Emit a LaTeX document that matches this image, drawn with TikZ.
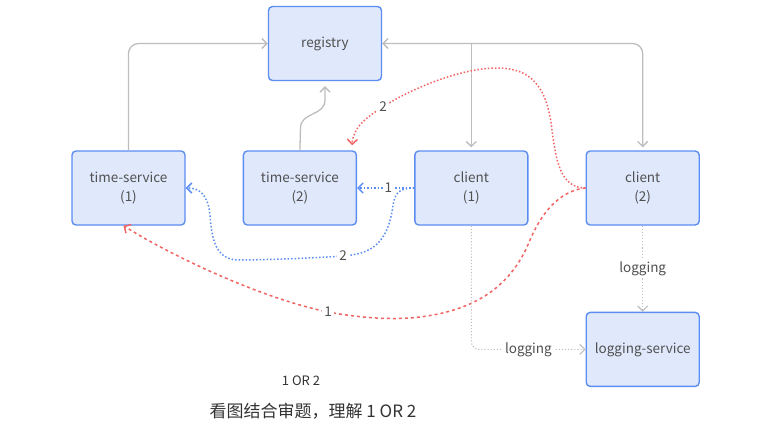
\documentclass[tikz,border=0pt]{standalone}
\usepackage{fontspec}
\setmainfont{Noto Sans CJK SC}
\usepackage{xcolor}
\usetikzlibrary{arrows.meta, positioning}

\definecolor{boxline}{HTML}{5B8DF2}
\definecolor{boxfill}{HTML}{E0E9FC}
\definecolor{txt}{HTML}{505050}
\definecolor{lgray}{HTML}{BDBDBD}
\definecolor{redline}{HTML}{F26464}
\definecolor{blueline}{HTML}{5B8DF2}

\begin{document}
\begin{tikzpicture}[
    x=1pt, y=-1pt,
    node distance=57pt,
    font=\fontsize{13.5}{19.5}\selectfont,
    text=txt,
    block/.style={
        draw=boxline,
        fill=boxfill,
        line width=1.4pt,
        rectangle,
        rounded corners=4pt,
        align=center,
        minimum width=113pt,
        minimum height=74pt
    },
    tip/.style={-{Straight Barb[length=5pt, width=10pt]}},
    grayarrow/.style={tip, draw=lgray, line width=1.3pt},
    logarrow/.style={tip, draw=lgray, line width=1.1pt, dotted},
    reddot/.style={tip, draw=redline, line width=1.5pt, dotted},
    reddash/.style={tip, draw=redline, line width=1.5pt, dash pattern=on 3pt off 3pt},
    bluedot/.style={tip, draw=blueline, line width=1.5pt, dotted},
    lbl/.style={fill=white, inner sep=2pt}
]
\useasboundingbox (0,0) rectangle (777,432);

% ===== Nodes =====
\node[block] (reg) at (325,43.5) {registry};

\node[block] (ts1) at (128.5,188) {time-service\\(1)};
\node[block, right=of ts1] (ts2) {time-service\\(2)};
\node[block, right=of ts2] (cl1) {client\\(1)};
\node[block, right=of cl1] (cl2) {client\\(2)};

\node[block, below=86pt of cl2] (logsvc) {logging-service};

% ===== Registry links =====
\draw[grayarrow, rounded corners=10pt] (ts1.north) |- (reg.west);
\draw[grayarrow] (ts2.north) -- (300.5,128) .. controls (300.5,112) and (325,116) .. (325,100)
  -- ([yshift=-5pt]reg.south);
\draw[grayarrow, {Straight Barb[length=5pt, width=10pt]}-{Straight Barb[length=5pt, width=10pt]},
  rounded corners=10pt, shorten >=3pt] (reg.east) -| (cl2.north);
\draw[grayarrow, shorten >=3pt] (reg.east -| cl1.north) -- (cl1.north);

% ===== Client calls =====
\draw[bluedot] (cl1.west) -- (ts2.east) node[lbl, pos=0.45] {1};
\draw[bluedot] (cl1.west) .. controls (397,188) and (395,195) .. (393,205)
  .. controls (388,245) and (370,254) .. (343,256)
  .. controls (300,259) and (250,260) .. (240,260)
  .. controls (218,260) and (212,245) .. (210,215)
  .. controls (208,195) and (200,188) .. (ts1.east);
\node[lbl] (b2) at (343,256) {2};

\draw[reddot] (cl2.west) .. controls (560,188) and (556,160) .. (552,130)
  .. controls (547,85) and (530,68) .. (497,68)
  .. controls (455,68) and (400,95) .. (383,107)
  .. controls (365,118) and (353,128) .. ([xshift=-5pt, yshift=5pt]ts2.north east);
\node[lbl] (r2) at (383,107) {2};

\draw[reddash] (cl2.west) .. controls (565,190) and (545,205) .. (530,240)
  .. controls (510,290) and (470,313) .. (410,318)
  .. controls (380,320) and (350,316) .. (328,312)
  .. controls (260,298) and (170,255) .. ([xshift=-5pt]ts1.south);
\node[lbl] (r1) at (328,312) {1};

% ===== Logging =====
\draw[logarrow, rounded corners=8pt] (cl1.south) |- (logsvc.west)
  node[lbl, pos=0.75] {logging};
\draw[logarrow] (cl2.south) -- (cl2.south |- logsvc.north)
  node[lbl, midway] {logging};

% ===== Caption =====
\node[font=\fontsize{13}{15}\selectfont, text=black!80] (orline) at (301,381) {1 OR 2};
\node[font=\fontsize{17}{20}\selectfont, text=black!80] (caption) at (313,411) {看图结合审题，理解 1 OR 2};

\end{tikzpicture}
\end{document}
